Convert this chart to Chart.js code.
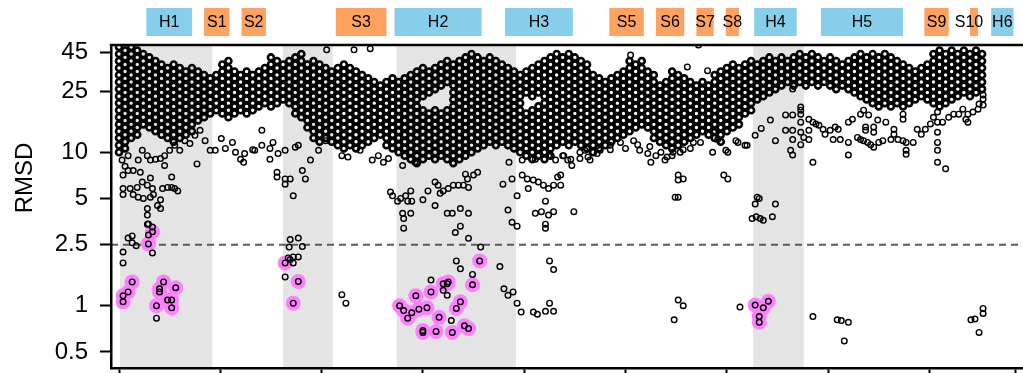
<!DOCTYPE html>
<html>
<head>
<meta charset="utf-8">
<script src="https://cdn.jsdelivr.net/npm/chart.js@4.4.0/dist/chart.umd.min.js"></script>
<style>
html,body{margin:0;padding:0;background:#fff;overflow:hidden;}
#wrap{width:1100px;height:420px;}
</style>
</head>
<body>
<div id="wrap"><canvas id="c" width="1100" height="420"></canvas></div>
<script>
// ---------- data ----------
const yTicks = [0.5, 1, 2.5, 5, 10, 25, 45];
const xTicks = [0, 100, 200, 300, 400, 500, 600, 700, 800, 885];
const threshold = 2.5;
const shadeRanges = [[1, 92], [162, 211], [274, 392], [626, 676]];
const elementNames = ['H1','S1','S2','S3','H2','H3','S5','S6','S7','S8','H4','H5','S9','S10','H6'];
const elementStart = [27, 84, 121, 214, 272, 381, 484, 530, 570, 599, 627, 693, 795, 840, 861];
const elementEnd   = [72, 109, 145, 264, 358, 448, 518, 558, 587, 612, 669, 774, 819, 848, 883];

// dense band: [x, rmsd values...]
const bandColumns = [
[0,48.5,43.7,39.3,35.4,31.9,28.7,25.8,23.2,20.9,18.8,16.9,15.2,13.7,12.4,11.1,10],
[6,46,41.5,37.3,33.6,30.3,27.2,24.5,22.1,19.9,17.9,16.1,14.5,13,11.7,10.6],
[12,48.5,43.7,39.3,35.4,31.9,28.7,25.8,23.2,20.9,18.8,16.9,15.2,13.7,12.4],
[18,46,41.5,37.3,33.6,30.3,27.2,24.5,22.1,19.9,17.9,16.1,14.5,13],
[24,43.7,39.3,35.4,31.9,28.7,25.8,23.2,20.9,18.8,16.9,15.2],
[30,41.5,37.3,33.6,30.3,27.2,24.5,22.1,19.9,17.9,16.1,14.5],
[36,39.3,35.4,31.9,28.7,25.8,23.2,20.9,18.8,16.9,15.2,13.7],
[42,37.3,33.6,30.3,27.2,24.5,22.1,19.9,17.9,16.1,14.5,13],
[48,35.4,31.9,28.7,25.8,23.2,20.9,18.8,16.9,15.2,13.7,12.4],
[54,37.3,33.6,30.3,27.2,24.5,22.1,19.9,17.9,16.1,14.5,13,11.7],
[60,35.4,31.9,28.7,25.8,23.2,20.9,18.8,16.9,15.2,13.7,12.4],
[66,33.6,30.3,27.2,24.5,22.1,19.9,17.9,16.1,14.5,13],
[72,35.4,31.9,28.7,25.8,23.2,20.9,18.8,16.9,15.2,13.7],
[78,33.6,30.3,27.2,24.5,22.1,19.9,17.9,16.1],
[84,31.9,28.7,25.8,23.2,20.9,18.8,16.9],
[90,30.3,27.2,24.5,22.1,19.9,17.9],
[96,31.9,28.7,25.8,23.2,20.9,18.8],
[102,37.3,33.6,30.3,27.2,24.5,22.1,19.9,17.9],
[108,39.3,35.4,31.9,28.7,25.8,23.2,20.9,18.8,16.9],
[114,33.6,30.3,27.2,24.5,22.1,19.9,17.9],
[120,31.9,28.7,25.8,23.2,20.9,18.8],
[126,33.6,30.3,27.2,24.5,22.1,19.9,17.9],
[132,31.9,28.7,25.8,23.2,20.9,18.8],
[138,33.6,30.3,27.2,24.5,22.1,19.9],
[144,35.4,31.9,28.7,25.8,23.2,20.9],
[150,41.5,37.3,33.6,30.3,27.2,24.5,22.1,19.9],
[156,39.3,35.4,31.9,28.7,25.8,23.2,20.9],
[162,37.3,33.6,30.3,27.2,24.5,22.1],
[168,39.3,35.4,31.9,28.7,25.8,23.2,20.9],
[174,41.5,37.3,33.6,30.3,27.2,24.5,22.1,19.9,17.9],
[180,43.7,39.3,35.4,31.9,28.7,25.8,23.2,20.9,18.8,16.9],
[186,37.3,33.6,30.3,27.2,24.5,22.1,19.9,17.9,16.1,14.5],
[192,39.3,35.4,31.9,28.7,25.8,23.2,20.9,18.8,16.9,15.2,13.7,12.4],
[198,37.3,33.6,30.3,27.2,24.5,22.1,19.9,17.9,16.1,14.5,13,11.7],
[204,35.4,31.9,28.7,25.8,23.2,20.9,18.8,16.9,15.2,13.7,12.4],
[210,33.6,30.3,27.2,24.5,22.1,19.9,17.9,16.1,14.5,13,11.7],
[216,35.4,31.9,28.7,25.8,23.2,20.9,18.8,16.9,15.2,13.7,12.4,11.1],
[222,37.3,33.6,30.3,27.2,24.5,22.1,19.9,17.9,16.1,14.5,13,11.7,10.6],
[228,35.4,31.9,28.7,25.8,23.2,20.9,18.8,16.9,15.2,13.7,12.4,11.1],
[234,33.6,30.3,27.2,24.5,22.1,19.9,17.9,16.1,14.5,13,11.7,10.6],
[240,31.9,28.7,25.8,23.2,20.9,18.8,16.9,15.2,13.7,12.4,11.1],
[246,30.3,27.2,24.5,22.1,19.9,17.9,16.1,14.5,13,11.7],
[252,28.7,25.8,23.2,20.9,18.8,16.9,15.2,13.7,12.4],
[258,27.2,24.5,22.1,19.9,17.9,16.1,14.5,13],
[264,28.7,25.8,23.2,20.9,18.8,16.9,15.2,13.7,12.4,11.1],
[270,30.3,27.2,24.5,22.1,19.9,17.9,16.1,14.5,13,11.7,10.6],
[276,28.7,25.8,23.2,20.9,18.8,16.9,15.2,13.7,12.4,11.1,10],
[282,30.3,27.2,24.5,22.1,19.9,17.9,16.1,14.5,13,11.7,10.6,9.5],
[288,31.9,28.7,25.8,23.2,20.9,18.8,16.9,15.2,13.7,12.4,11.1,10,9],
[294,33.6,30.3,27.2,24.5,22.1,19.9,17.9,16.1,14.5,13,11.7,10.6,9.5,8.5],
[300,35.4,31.9,28.7,25.8,23.2,18.8,16.9,15.2,13.7,12.4,11.1,10,9],
[306,33.6,30.3,27.2,24.5,17.9,16.1,14.5,13,11.7,10.6,9.5],
[312,35.4,31.9,28.7,25.8,18.8,16.9,15.2,13.7,12.4,11.1,10,9],
[318,37.3,33.6,30.3,27.2,17.9,16.1,14.5,13,11.7,10.6,9.5],
[324,39.3,35.4,31.9,28.7,18.8,16.9,15.2,13.7,12.4,11.1,10,9],
[330,37.3,33.6,30.3,27.2,24.5,22.1,19.9,17.9,16.1,14.5,13,11.7,10.6,9.5,8.5],
[336,39.3,35.4,31.9,28.7,25.8,23.2,20.9,18.8,16.9,15.2,13.7,12.4,11.1,10,9],
[342,41.5,37.3,33.6,30.3,27.2,24.5,22.1,19.9,17.9,16.1,14.5,13,11.7,10.6,9.5],
[348,43.7,39.3,35.4,31.9,28.7,25.8,23.2,20.9,18.8,16.9,15.2,13.7,12.4,11.1,10],
[354,41.5,37.3,33.6,30.3,27.2,24.5,22.1,19.9,17.9,16.1,14.5,13,11.7,10.6],
[360,39.3,35.4,31.9,28.7,25.8,23.2,20.9,18.8,16.9,15.2,13.7,12.4,11.1],
[366,41.5,37.3,33.6,30.3,27.2,24.5,22.1,19.9,17.9,16.1,14.5,13,11.7],
[372,39.3,35.4,31.9,28.7,25.8,23.2,20.9,18.8,16.9,15.2,13.7,12.4,11.1],
[378,37.3,33.6,30.3,27.2,24.5,22.1,19.9,17.9,16.1,14.5,13,11.7],
[384,35.4,31.9,28.7,25.8,23.2,20.9,18.8,16.9,15.2,13.7,12.4,11.1],
[390,33.6,30.3,27.2,24.5,22.1,19.9,17.9,16.1,14.5,13,11.7,10.6],
[396,31.9,28.7,25.8,23.2,20.9,18.8,16.9,15.2,13.7,12.4,11.1,10],
[402,33.6,30.3,27.2,24.5,17.9,16.1,14.5,13,11.7,10.6,9.5],
[408,35.4,31.9,28.7,25.8,23.2,18.8,16.9,15.2,13.7,12.4,11.1,10,9],
[414,37.3,33.6,30.3,27.2,24.5,19.9,17.9,16.1,14.5,13,11.7,10.6,9.5],
[420,39.3,35.4,31.9,28.7,25.8,23.2,20.9,18.8,16.9,15.2,13.7,12.4,11.1,10,9],
[426,41.5,37.3,33.6,30.3,27.2,24.5,22.1,19.9,17.9,16.1,14.5,13,11.7,10.6,9.5],
[432,43.7,39.3,35.4,31.9,28.7,25.8,23.2,20.9,18.8,16.9,15.2,13.7,12.4,11.1],
[438,41.5,37.3,33.6,30.3,27.2,24.5,22.1,19.9,17.9,16.1,14.5,13,11.7],
[444,43.7,39.3,35.4,31.9,28.7,25.8,23.2,20.9,18.8,16.9,15.2,13.7,12.4,11.1],
[450,41.5,37.3,33.6,30.3,27.2,24.5,22.1,19.9,17.9,16.1,14.5,13,11.7],
[456,39.3,35.4,31.9,28.7,25.8,23.2,20.9,18.8,16.9,15.2,13.7,12.4,11.1],
[462,37.3,33.6,30.3,27.2,24.5,22.1,19.9,17.9,16.1,14.5,13,11.7,10.6],
[468,31.9,28.7,25.8,23.2,20.9,18.8,16.9,15.2,13.7,12.4,11.1,10],
[474,30.3,27.2,24.5,22.1,19.9,17.9,16.1,14.5,13,11.7,10.6],
[480,28.7,25.8,23.2,20.9,18.8,16.9,15.2,13.7,12.4,11.1],
[486,30.3,27.2,24.5,22.1,19.9,17.9,16.1,14.5,13,11.7],
[492,31.9,28.7,25.8,23.2,20.9,18.8,16.9,15.2,13.7,12.4],
[498,33.6,30.3,27.2,24.5,22.1,19.9,17.9,16.1,14.5,13],
[504,39.3,35.4,31.9,28.7,25.8,23.2,20.9,18.8,16.9,15.2,13.7],
[510,37.3,33.6,30.3,27.2,24.5,22.1,19.9,17.9,16.1,14.5],
[516,39.3,35.4,31.9,28.7,25.8,23.2,20.9,18.8,16.9,15.2],
[522,33.6,30.3,27.2,24.5,22.1,19.9,17.9,16.1,14.5],
[528,31.9,28.7,25.8,23.2,20.9,18.8,16.9,15.2,13.7,12.4],
[534,27.2,24.5,22.1,19.9,17.9,16.1,14.5,13,11.7],
[540,28.7,25.8,23.2,20.9,18.8,16.9,15.2,13.7,12.4,11.1],
[546,33.6,30.3,27.2,24.5,22.1,19.9,17.9,16.1,14.5,13,11.7,10.6],
[552,31.9,28.7,25.8,23.2,20.9,18.8,16.9,15.2,13.7,12.4,11.1],
[558,30.3,27.2,24.5,22.1,19.9,17.9,16.1,14.5,13,11.7],
[564,28.7,25.8,23.2,20.9,18.8,16.9,15.2,13.7,12.4],
[570,27.2,24.5,22.1,19.9,17.9,16.1,14.5,13],
[576,28.7,25.8,23.2,20.9,18.8,16.9,15.2,13.7],
[582,27.2,24.5,22.1,19.9,17.9,16.1,14.5,13],
[588,31.9,28.7,25.8,23.2,20.9,18.8,16.9,15.2,13.7,12.4],
[594,33.6,30.3,27.2,24.5,22.1,19.9,17.9,16.1,14.5,13,11.7],
[600,35.4,31.9,28.7,25.8,23.2,20.9,18.8,16.9,15.2,13.7],
[606,37.3,33.6,30.3,27.2,24.5,22.1,19.9,17.9,16.1,14.5],
[612,35.4,31.9,28.7,25.8,23.2,20.9,18.8,16.9,15.2],
[618,37.3,33.6,30.3,27.2,24.5,22.1,19.9,17.9],
[624,39.3,35.4,31.9,28.7,25.8,23.2,20.9,18.8],
[630,37.3,33.6,30.3,27.2,24.5,22.1],
[636,39.3,35.4,31.9,28.7,25.8,23.2],
[642,41.5,37.3,33.6,30.3,27.2,24.5],
[648,39.3,35.4,31.9,28.7,25.8],
[654,41.5,37.3,33.6,30.3,27.2],
[660,39.3,35.4,31.9,28.7],
[666,41.5,37.3,33.6,30.3,27.2],
[672,43.7,39.3,35.4,31.9,28.7],
[678,41.5,37.3,33.6,30.3,27.2],
[684,43.7,39.3,35.4,31.9,28.7],
[690,41.5,37.3,33.6,30.3,27.2],
[696,39.3,35.4,31.9,28.7],
[702,41.5,37.3,33.6,30.3,27.2],
[708,39.3,35.4,31.9,28.7,25.8],
[714,37.3,33.6,30.3,27.2],
[720,39.3,35.4,31.9,28.7,25.8],
[726,41.5,37.3,33.6,30.3,27.2,24.5],
[732,43.7,39.3,35.4,31.9,28.7,25.8,23.2],
[738,41.5,37.3,33.6,30.3,27.2,24.5,22.1],
[744,43.7,39.3,35.4,31.9,28.7,25.8,23.2,20.9],
[750,41.5,37.3,33.6,30.3,27.2,24.5,22.1,19.9],
[756,43.7,39.3,35.4,31.9,28.7,25.8,23.2,20.9],
[762,41.5,37.3,33.6,30.3,27.2,24.5,22.1,19.9],
[768,39.3,35.4,31.9,28.7,25.8,23.2,20.9],
[774,37.3,33.6,30.3,27.2,24.5,22.1,19.9],
[780,35.4,31.9,28.7,25.8,23.2,20.9],
[786,33.6,30.3,27.2,24.5,22.1],
[792,35.4,31.9,28.7,25.8,23.2],
[798,37.3,33.6,30.3,27.2,24.5,22.1],
[804,43.7,39.3,35.4,31.9,28.7,25.8,23.2,20.9],
[810,46,41.5,37.3,33.6,30.3,27.2,24.5,22.1,19.9],
[816,43.7,39.3,35.4,31.9,28.7,25.8,23.2,20.9],
[822,46,41.5,37.3,33.6,30.3,27.2,24.5,22.1],
[828,43.7,39.3,35.4,31.9,28.7,25.8,23.2],
[834,46,41.5,37.3,33.6,30.3,27.2,24.5],
[840,43.7,39.3,35.4,31.9,28.7,25.8,23.2],
[846,46,41.5,37.3,33.6,30.3,27.2,24.5],
[852,43.7,39.3,35.4,31.9,28.7,25.8]
];

// scattered points outside the dense band: [x, rmsd]
const scatterPoints = [
[4,5.8],[11,5.8],[18,5.9],[23,6.4],[28,6.1],[33,5.8],[4,5.3],[14,5.3],[19,5.1],[24,5.0],[31,5.1],[34,5.3],[43,5.8],[48,5.9],[52,5.9],[55,5.8],[58,5.6],[52,6.9],[41,4.9],[38,4.5],[41,4.3],[28,4.3],[28,3.9],[28,3.4],[4,7.1],[9,7.6],[21,7.4],[31,6.8],[45,8.2],
[4,2.24],[4,1.9],[9,2.76],[13,2.85],[13,2.57],[17,2.46],[29,3.41],[33,3.26],[29,2.89],[33,2.21],[37,0.83],
[3,8.9],[6,8.1],[9,9.5],[14,7.6],[19,8.9],[23,10.3],[28,9.5],[31,8.9],[36,9.0],[41,9.1],[45,9.5],[50,10.3],[55,11.1],[60,10.3],[65,11.9],[70,11.4],[75,12.9],[80,13.9],[85,11.9],[90,10.3],
[95,10.3],[105,10.6],[115,10.0],[124,9.8],[134,10.3],[141,11.1],[149,10.6],[157,9.8],[164,10.3],[174,10.8],[77,8.4],[123,8.6],[120,9.0],[132,10.4],[141,13.9],[149,9.0],[101,12.3],[112,11.6],
[156,7.4],[156,6.9],[164,6.7],[164,6.2],[169,6.7],[172,5.2],[181,7.6],[184,6.7],[152,11.6],[177,11.1],[189,8.9],[197,10.3],[204,11.9],
[169,2.7],[177,2.76],[168,2.41],[181,2.43],[167,2.05],[172,2.08],[177,2.08],[169,2.0],[172,1.9],[164,1.54],
[220,1.18],[224,1.04],
[268,5.5],[270,5.2],[275,4.8],[278,5.0],[283,5.2],[285,4.8],[288,5.6],[289,4.8],[280,4.0],[281,3.7],[288,4.0],[281,3.2],[300,4.9],[305,5.6],[312,6.4],[315,6.1],[312,4.5],[317,5.4],[320,5.6],[325,5.8],[330,6.1],[335,6.1],[340,6.1],[345,5.9],[324,4.0],[329,4.0],[337,4.3],[345,4.0],[337,3.3],[332,3.0],[345,2.75],[357,2.41],[342,7.2],[344,6.7],[350,7.1],[354,7.4],[379,6.2],[384,4.2],[388,3.5],[393,3.3],[388,6.7],[393,5.2],[398,7.1],[403,6.7],[404,5.8],[409,6.6],[414,6.4],[419,6.1],[421,4.8],[424,5.8],[429,6.1],[433,6.9],[411,4.0],[417,4.1],[424,3.9],[429,4.1],[421,3.4],[421,3.2],
[220,9.5],[226,9.3],[256,9.5],[261,8.6],[280,8.2],[292,8.6],[385,8.6],[398,8.9],[411,9.0],[424,9.5],[431,8.9],[238,10.3],[250,8.9],[266,9.1],
[308,1.47],[320,1.26],[324,1.17],[328,0.80],[333,1.96],[337,1.74],[349,1.6],[376,1.8],[380,1.29],[384,1.17],[389,1.23],[393,1.04],[397,0.91],[409,0.91],[413,0.88],[421,0.92],[425,1.04],[429,0.92],[425,1.96],[429,1.72],
[449,4.1],[436,7.1],[436,6.1],[549,5.1],[552,5.1],[552,7.1],[552,6.6],[557,6.7],[597,7.1],[601,6.7],[630,5.1],[628,4.6],[632,5.0],[648,4.6],[625,3.7],[629,3.8],[633,3.7],[636,3.6],[645,3.8],
[438,9.5],[443,8.9],[447,8.2],[455,9.1],[460,10.3],[465,8.9],[475,10.3],[485,11.1],[500,10.6],[508,11.9],[514,10.3],[524,10.9],[530,9.5],[539,8.9],[546,9.5],[554,10.0],[564,10.6],[574,11.6],[586,10.0],[599,10.3],[609,11.9],[618,11.1],[628,12.9],[634,14.3],[643,16.2],[648,11.9],[658,17.5],[658,13.9],[663,10.3],
[439,9.5],[446,9.0],[455,10.0],[463,9.3],[472,9.8],[485,10.4],[495,11.6],[512,11.2],[522,9.8],[525,8.6],[535,10.0],[541,9.3],[547,10.0],[557,10.4],[567,11.6],[587,13.5],[591,12.1],[601,10.0],[611,11.6],[620,11.1],
[548,0.81],[552,1.09],[557,1.0],[613,0.98],
[685,0.85],[709,0.81],[713,0.80],[720,0.78],[716,0.59],[841,0.81],[845,0.82],[853,0.96],[853,0.89],[849,0.67],
[665,25.8],[665,17.5],[665,13.9],[665,12.1],[665,9.6],[673,19.7],[673,18.8],[673,17.7],[673,15.7],[673,13.5],[673,11.2],[676,12.5],[681,12.1],[681,13.9],[681,16.4],[685,15.7],[688,15.3],[691,15.0],[695,14.1],[697,13.1],[685,8.6],[702,13.9],[707,14.6],[710,14.1],[705,12.1],[712,12.1],[720,11.6],[720,9.6],[720,15.7],[724,16.4],[729,12.5],[732,12.1],[735,11.9],[739,11.6],[742,11.2],[745,10.8],[750,11.6],[754,11.9],[737,13.9],[737,14.6],[745,14.6],[749,16.2],[745,13.5],[732,17.7],[735,18.8],[740,17.5],[757,15.7],[762,12.1],[765,13.1],[765,14.1],[769,12.1],[774,11.9],[777,11.6],[777,10.3],[777,9.7],[784,11.6],[774,16.4],[774,17.7],[788,14.1],[792,13.1],[796,14.1],[801,15.3],[804,16.9],[808,18.3],[808,15.7],[808,13.5],[808,11.6],[808,10.3],[808,8.6],[816,7.8],[813,15.7],[819,16.9],[824,17.7],[829,17.7],[836,16.4],[838,15.7],[838,17.7],[843,18.3],[848,19.1],[853,20.3],[853,23.6],[853,22.2],[849,20.6],[833,19.1],
[205,46.5],[232,46.5],[248,47.3],[572,50],[505,43],[581,34],[561,36]
];

// highlighted (sub-threshold) models: [x, rmsd]
const highlightPoints = [
[13,1.43],[9,1.23],[4,1.16],[4,1.06],[44,1.43],[40,1.29],[40,1.23],[56,1.31],[48,1.09],[52,1.09],[52,0.97],[37,1.0],[33,3.03],[29,2.53],
[164,1.9],[177,1.44],[172,1.04],
[277,1.0],[281,0.93],[285,0.83],[289,0.90],[293,1.16],[296,0.95],[304,0.97],[308,1.23],[316,0.84],[320,1.39],[324,1.39],[325,1.43],[333,0.96],[337,1.06],[349,1.37],[356,1.96],[300,0.69],[300,0.67],[313,0.68],[329,0.67],[341,0.74],[345,0.71],
[628,1.01],[636,0.97],[641,1.07],[632,0.85],[632,0.78]
];

// ---------- build ----------
const FONT = '"Liberation Sans", Arial, Helvetica, sans-serif';
const bandPts = [];
bandColumns.forEach(col => { for (let i = 1; i < col.length; i++) bandPts.push({x: col[0], y: col[i]}); });
const otherPts = scatterPoints.map(p => ({x: p[0], y: p[1]}))
  .concat(highlightPoints.map(p => ({x: p[0], y: p[1]})));
const haloPts = highlightPoints.map(p => ({x: p[0], y: p[1]}));

const decor = {
  id: 'decor',
  beforeDraw(chart) {
    const {ctx, chartArea: a, scales: {x, y}} = chart;
    ctx.save();
    ctx.fillStyle = '#e4e4e4';
    shadeRanges.forEach(([s, e]) => {
      const x0 = x.getPixelForValue(s), x1 = x.getPixelForValue(e);
      ctx.fillRect(x0, a.top, x1 - x0, a.bottom - a.top);
    });
    const yy = y.getPixelForValue(threshold);
    ctx.strokeStyle = '#5c5c5c';
    ctx.lineWidth = 2;
    ctx.setLineDash([7, 5]);
    ctx.beginPath(); ctx.moveTo(a.left, yy); ctx.lineTo(a.right, yy); ctx.stroke();
    ctx.restore();
  },
  afterDraw(chart) {
    const {ctx, chartArea: a, scales: {x}} = chart;
    ctx.save();
    ctx.strokeStyle = '#000'; ctx.lineWidth = 2.5;
    ctx.beginPath(); ctx.moveTo(a.left - 1.25, a.top); ctx.lineTo(a.right, a.top); ctx.stroke();
    ctx.font = '16px ' + FONT;
    ctx.textAlign = 'center'; ctx.textBaseline = 'middle';
    elementNames.forEach((name, i) => {
      const x0 = x.getPixelForValue(elementStart[i]), x1 = x.getPixelForValue(elementEnd[i]);
      ctx.fillStyle = name[0] === 'H' ? '#87ceeb' : '#fda35f';
      ctx.fillRect(x0, 8, x1 - x0, 28);
    });
    elementNames.forEach((name, i) => {
      const x0 = x.getPixelForValue(elementStart[i]), x1 = x.getPixelForValue(elementEnd[i]);
      ctx.fillStyle = '#000';
      ctx.fillText(name, (x0 + x1) / 2 - (name === 'S10' ? 5 : 0), 23);
    });
    ctx.translate(25, 178);
    ctx.rotate(-Math.PI / 2);
    ctx.font = '24px ' + FONT;
    ctx.fillStyle = '#000';
    ctx.fillText('RMSD', 0, 0);
    ctx.restore();
  }
};

new Chart(document.getElementById('c'), {
  type: 'scatter',
  data: {
    datasets: [
      {label: 'halo', data: haloPts, order: 3, pointRadius: 7.5, pointBorderWidth: 0,
       pointBackgroundColor: '#ff80ff', pointBorderColor: 'rgba(0,0,0,0)'},
      {label: 'band', data: bandPts, order: 2, pointRadius: 3.0, pointBorderWidth: 2.6,
       pointBackgroundColor: 'rgba(0,0,0,0)', pointBorderColor: '#000'},
      {label: 'models', data: otherPts, order: 1, pointRadius: 2.8, pointBorderWidth: 1.4,
       pointBackgroundColor: 'rgba(0,0,0,0)', pointBorderColor: '#000'}
    ]
  },
  options: {
    responsive: false,
    animation: false,
    events: [],
    parsing: false,
    layout: {padding: {top: 45, left: 0, right: 0, bottom: 0}},
    plugins: {legend: {display: false}, tooltip: {enabled: false}},
    scales: {
      x: {
        type: 'linear', min: -7.9, max: 961.0,
        afterBuildTicks: s => { s.ticks = xTicks.map(v => ({value: v})); },
        afterFit: s => { s.height = 52; },
        grid: {drawOnChartArea: false, drawTicks: true, tickLength: 8, tickWidth: 2, tickColor: '#000'},
        border: {display: true, color: '#000', width: 2.5},
        ticks: {color: '#000', font: {size: 24, family: FONT}, maxRotation: 0, autoSkip: false, padding: 6}
      },
      y: {
        type: 'logarithmic', min: 0.393, max: 50,
        afterBuildTicks: s => { s.ticks = yTicks.map(v => ({value: v})); },
        afterFit: s => { s.width = 111; },
        grid: {drawOnChartArea: false, drawTicks: true, tickLength: 11, tickWidth: 2, tickColor: '#000'},
        border: {display: true, color: '#000', width: 2.5},
        ticks: {color: '#000', font: {size: 24, family: FONT}, padding: 12, autoSkip: false,
                callback: v => String(v)}
      }
    }
  },
  plugins: [decor]
});
</script>
</body>
</html>
